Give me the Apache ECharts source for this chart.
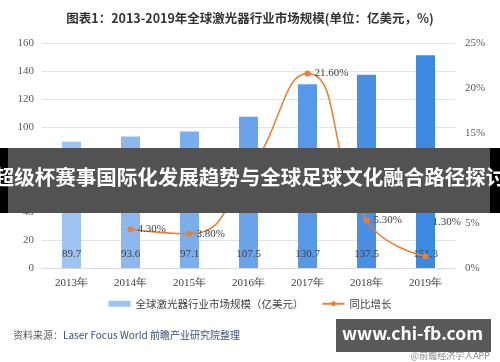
<!DOCTYPE html>
<html><head><meta charset="utf-8">
<script src="https://cdn.jsdelivr.net/npm/echarts@6/dist/echarts.min.js"></script>
<style>html,body{margin:0;padding:0;background:#fff}#c{width:500px;height:362px}</style>
</head><body><div id="c"></div>
<script>
var categories = ['2013年','2014年','2015年','2016年','2017年','2018年','2019年'];
var marketSize = [89.7, 93.6, 97.1, 107.5, 130.7, 137.5, 151.3];
var growth = [null, 4.30, 3.80, 10.60, 21.60, 5.30, 1.30];
var barColors = ['#9dc3f2','#8cb8ef','#7aaeed','#69a3ea','#5899e7','#4990e5','#3c89e3'];
var seriesNames = ['全球激光器行业市场规模（亿美元）','同比增长'];
var titleText = '图表1：2013-2019年全球激光器行业市场规模(单位：亿美元，%)';
var bannerText = '超级杯赛事国际化发展趋势与全球足球文化融合路径探讨';
var sourceText = 'Laser Focus World 前瞻产业研究院整理';

var chart = echarts.init(document.getElementById('c'), null, {renderer:'canvas'});
var serif = '"Liberation Serif","DejaVu Serif",serif';
var sans = '"Noto Sans CJK SC","Noto Sans",sans-serif';

var barData = marketSize.map(function(v,i){return {value:v,itemStyle:{color:barColors[i]}};});
var lineData = growth.map(function(v,i){
  if (v === null) return '-';
  var d = {value:v};
  if (i === 6) d.label = {offset:[0,-34]};
  return d;
});

chart.setOption({
  animation:false,
  title:{text:titleText,left:'center',top:7,textStyle:{fontSize:12.5,fontWeight:'bold',color:'#333',fontFamily:sans}},
  grid:{left:42,right:45,top:43,bottom:94},
  legend:{
    bottom:48,left:'center',itemGap:18,itemWidth:22,itemHeight:6,
    textStyle:{fontSize:10.5,color:'#404040',fontFamily:sans},
    data:[{name:seriesNames[0],icon:'rect'},{name:seriesNames[1]}]
  },
  xAxis:{type:'category',data:categories,
    axisLine:{lineStyle:{color:'#d9d9d9'}},axisTick:{show:false},
    axisLabel:{color:'#404040',fontSize:11,fontFamily:serif,margin:10}},
  yAxis:[
    {type:'value',min:0,max:160,interval:20,
     axisLine:{show:false},axisTick:{show:false},
     splitLine:{lineStyle:{color:'#e3e3e3'}},
     axisLabel:{color:'#595959',fontSize:11,fontFamily:serif,margin:8}},
    {type:'value',min:0,max:25,interval:5,
     axisLine:{show:false},axisTick:{show:false},splitLine:{show:false},
     axisLabel:{color:'#595959',fontSize:11,fontFamily:serif,margin:10,formatter:'{value}%'}}
  ],
  series:[
    {name:seriesNames[0],type:'bar',data:barData,barWidth:19,
     itemStyle:{color:'#9dc3f2'},
     label:{show:true,position:'insideBottom',distance:8,color:'#404040',fontSize:11,fontFamily:serif}},
    {name:seriesNames[1],type:'line',yAxisIndex:1,data:lineData,smooth:0.5,
     symbol:'circle',symbolSize:6,
     lineStyle:{color:'#ed7d31',width:1.5},itemStyle:{color:'#ed7d31'},
     label:{show:true,position:'right',distance:4,color:'#404040',fontSize:11,fontFamily:serif,
       formatter:function(p){return p.value.toFixed(2)+'%';}}}
  ],
  graphic:[
    {type:'rect',shape:{x:0,y:148,width:500,height:65},style:{fill:'#000'},z:100},
    {type:'rect',shape:{x:8,y:148,width:482,height:65},style:{fill:'rgba(110,110,110,0.75)'},z:101},
    {type:'text',left:'center',top:167,z:102,
     style:{text:bannerText,fill:'#fff',fontSize:20.5,fontWeight:'bold',fontFamily:sans}},
    {type:'text',left:13,top:330,z:10,
     style:{text:'{a|资料来源：}{b|'+sourceText+'}',
       rich:{a:{fill:'#595959',fontSize:10,fontFamily:sans},b:{fill:'#3a4f78',fontSize:10,fontFamily:sans}}}},
    {type:'text',right:10,top:351,z:99,
     style:{text:'@前瞻经济学人APP',fill:'#888',fontSize:9,fontFamily:sans}},
    {type:'rect',shape:{x:336,y:319,width:155,height:33},style:{fill:'#595959'},z:100},
    {type:'text',left:342,top:325,z:102,
     style:{text:'www.chi-fb.com',fill:'#fff',fontSize:17.5,fontWeight:'bold',fontFamily:sans}}
  ]
});
</script></body></html>
